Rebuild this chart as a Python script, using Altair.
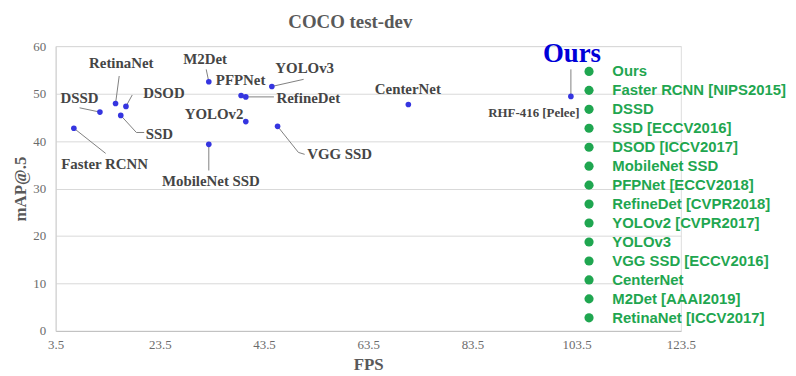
import altair as alt
import pandas as pd

# ---- data ----
models = ["Ours", "Faster RCNN", "DSSD", "SSD", "DSOD", "MobileNet SSD", "PFPNet",
          "RefineDet", "YOLOv2", "YOLOv3", "VGG SSD", "CenterNet", "M2Det", "RetinaNet"]
legend_labels = ["Ours", "Faster RCNN [NIPS2015]", "DSSD", "SSD [ECCV2016]", "DSOD [ICCV2017]",
                 "MobileNet SSD", "PFPNet [ECCV2018]", "RefineDet [CVPR2018]", "YOLOv2 [CVPR2017]",
                 "YOLOv3", "VGG SSD [ECCV2016]", "CenterNet", "M2Det [AAAI2019]", "RetinaNet [ICCV2017]"]
fps = [102.4, 7.0, 12.0, 16.0, 17.0, 32.9, 39.1, 40.0, 40.0, 45.0, 46.1, 71.2, 32.9, 15.0]
map50 = [49.4, 42.7, 46.1, 45.4, 47.3, 39.3, 49.6, 49.3, 44.1, 51.5, 43.1, 47.7, 52.5, 47.9]

# annotation labels (text anchor in data units)
ann_text = ["Faster RCNN", "DSSD", "RetinaNet", "DSOD", "SSD", "MobileNet SSD", "M2Det",
            "PFPNet", "RefineDet", "YOLOv2", "YOLOv3", "VGG SSD", "CenterNet"]
ann_x = [12.9, 8.1, 16.1, 24.3, 23.4, 33.3, 32.2, 39.0, 52.0, 33.9, 51.3, 58.0, 71.1]
ann_y = [35.1, 49.1, 56.4, 50.1, 41.5, 31.5, 57.2, 52.8, 49.1, 45.7, 55.3, 37.2, 51.0]

ours_text = ["Ours"]
ours_x = [102.6]
ours_y = [58.3]
pelee_text = ["RHF-416 [Pelee]"]
pelee_x = [95.3]
pelee_y = [46.0]

# leader lines (data units)
lead_x1 = [7.0, 8.1, 15.7, 18.2, 16.0, 19.0, 32.9, 32.4, 40.0, 45.0, 46.1, 50.1, 102.4]
lead_y1 = [42.7, 47.0, 53.7, 49.7, 45.4, 41.8, 39.3, 55.1, 49.3, 51.5, 43.1, 37.6, 55.1]
lead_x2 = [13.1, 12.0, 15.0, 17.0, 19.0, 20.5, 32.9, 32.9, 45.4, 51.1, 50.1, 51.3, 102.4]
lead_y2 = [37.4, 46.1, 47.9, 47.3, 41.8, 41.8, 33.8, 52.5, 49.3, 53.0, 37.6, 37.2, 49.9]

x_ticks = [3.5, 23.5, 43.5, 63.5, 83.5, 103.5, 123.5]
y_ticks = [0, 10, 20, 30, 40, 50, 60]

# ---- tables ----
pts = pd.DataFrame({"model": models, "legend": legend_labels, "fps": fps, "map": map50})
ann = pd.DataFrame({"text": ann_text, "x": ann_x, "y": ann_y})
ours = pd.DataFrame({"text": ours_text, "x": ours_x, "y": ours_y})
pelee = pd.DataFrame({"text": pelee_text, "x": pelee_x, "y": pelee_y})
leads = pd.DataFrame({"x1": lead_x1, "y1": lead_y1, "x2": lead_x2, "y2": lead_y2})

GREEN = "#1fa650"
SERIF = "Liberation Serif"

xscale = alt.Scale(domain=[3.5, 123.5], nice=False, zero=False)
yscale = alt.Scale(domain=[0, 60], nice=False)

xaxis = alt.Axis(values=x_ticks, format=".1f", title="FPS", grid=False, ticks=False,
                 labelFlush=False,
                 domainColor="#bfbfbf", labelFont=SERIF, labelFontSize=13, labelColor="#6b6b6b",
                 labelPadding=8, titleFont=SERIF, titleFontSize=17, titleFontWeight="bold",
                 titleColor="#595959", titlePadding=5)
yaxis = alt.Axis(values=y_ticks, title="mAP@.5", grid=True, gridColor="#d9d9d9", ticks=False,
                 labelFlush=False,
                 domainColor="#d0d0d0", labelFont=SERIF, labelFontSize=13, labelColor="#6b6b6b",
                 labelPadding=10, titleFont=SERIF, titleFontSize=17, titleFontWeight="bold",
                 titleColor="#595959", titlePadding=3)

base_x = alt.X("fps:Q", scale=xscale, axis=xaxis)
base_y = alt.Y("map:Q", scale=yscale, axis=yaxis)

legend_layer = alt.Chart(pts).mark_point(filled=True, size=15, opacity=1).encode(
    x=base_x, y=base_y,
    color=alt.Color("legend:N",
                    scale=alt.Scale(domain=legend_labels, range=[GREEN] * len(legend_labels)),
                    legend=alt.Legend(title=None, orient="none", legendX=530, legendY=18,
                                      labelFont="Liberation Sans", labelFontWeight="bold",
                                      labelFontSize=15, labelColor=GREEN, symbolSize=85,
                                      symbolType="circle", symbolStrokeWidth=0,
                                      labelOffset=16, rowPadding=3.1, padding=0,
                                      labelLimit=300)),
)

blue_pts = alt.Chart(pts).mark_circle(size=32, color="#3535e0", opacity=1).encode(
    x=alt.X("fps:Q", scale=xscale), y=alt.Y("map:Q", scale=yscale)
)

lines = alt.Chart(leads).mark_rule(color="#808080", strokeWidth=1).encode(
    x=alt.X("x1:Q", scale=xscale), y=alt.Y("y1:Q", scale=yscale),
    x2="x2:Q", y2="y2:Q"
)

ann_layer = alt.Chart(ann).mark_text(font=SERIF, fontSize=15, fontWeight="bold",
                                     color="#454545", align="center", baseline="middle").encode(
    x=alt.X("x:Q", scale=xscale), y=alt.Y("y:Q", scale=yscale), text="text:N"
)

ours_layer = alt.Chart(ours).mark_text(font=SERIF, fontSize=27, fontWeight="bold",
                                       color="#0000d8", align="center", baseline="middle").encode(
    x=alt.X("x:Q", scale=xscale), y=alt.Y("y:Q", scale=yscale), text="text:N"
)

pelee_layer = alt.Chart(pelee).mark_text(font=SERIF, fontSize=13, fontWeight="bold",
                                         color="#454545", align="center", baseline="middle").encode(
    x=alt.X("x:Q", scale=xscale), y=alt.Y("y:Q", scale=yscale), text="text:N"
)

chart = alt.layer(legend_layer, lines, blue_pts, ann_layer, ours_layer, pelee_layer).properties(
    width=630, height=287,
    title=alt.TitleParams("COCO test-dev", font=SERIF, fontSize=19, fontWeight="bold",
                          color="#595959", dx=-18, offset=8),
    autosize=alt.AutoSizeParams(type="none"),
    padding={"left": 48, "top": 37, "right": 108, "bottom": 40},
).configure_view(stroke=None).configure(background="white")

chart.save("out.html", embed_options={"renderer": "svg", "actions": False})
